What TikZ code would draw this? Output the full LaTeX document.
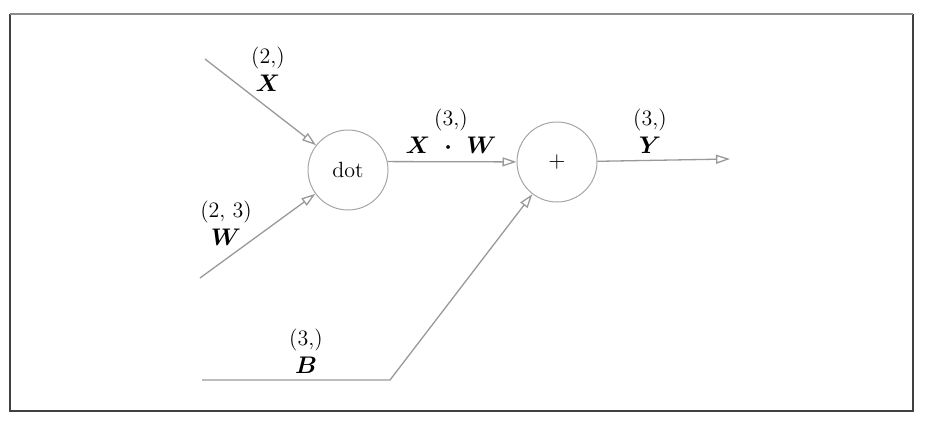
\documentclass[tikz,border=0pt]{standalone}
\usepackage{tikz}
\usepackage{amsmath}
\usepackage{amssymb}
\usetikzlibrary{arrows.meta, calc, positioning}

\newcommand{\tensor}[1]{{\fontsize{12.5}{15}\selectfont$\boldsymbol{#1}$}}

\begin{document}
\begin{tikzpicture}[x=0.5pt, y=-0.5pt, >={Triangle[open, length=7pt, width=4.5pt]}]
	\tikzstyle{op} = [draw=black!35, circle, minimum size=40pt, inner sep=0pt, line width=0.5pt, font=\fontsize{11}{13}\selectfont]
	\tikzstyle{wire} = [draw=black!40, line width=0.65pt]
	\tikzstyle{dims} = [align=center, inner sep=0pt, font=\fontsize{11}{13}\selectfont]

	\useasboundingbox (0,0) rectangle (928,424);
	% frame
	\draw[black!75, line width=0.8pt] (10,14) -- (10,411) -- (913,411) -- (913,14);
	\draw[black!45, line width=1.1pt] (10,14) -- (913,14);

	\path
		node[op] (dot) at (348,170) {dot}
		node[op] (plus) at (557,162) {$+$}
		coordinate (xin) at (205,59)
		coordinate (win) at (200,278)
		coordinate (bin) at (202,380)
		coordinate (bend) at (390,380)
		coordinate (yout) at (730,159)
	;

	\draw[->, wire] (xin) -- (dot);
	\draw[->, wire] (win) -- (dot);
	\draw[->, wire] (dot.12) -- (plus);
	\draw[->, wire] (plus) -- (yout);
	\draw[->, wire] (bin) -- (bend) -- (plus);

	% shapes and names
	\node[dims] (xlab) at (268,69) {(2,)\\[1pt] \tensor{X}};
	\node[dims] (wlab) at (226,223) {(2, 3)\\[1pt] \tensor{W}};
	\node[dims] (xwlab) at (451,131) {(3,)\\[1pt] \tensor{X\ \cdot\ W}};
	\node[dims] (ylab) at (650,131) {(3,)\\[1pt] \tensor{Y}};
	\node[dims] (blab) at (306,351) {(3,)\\[1pt] \tensor{B}};
\end{tikzpicture}
\end{document}
